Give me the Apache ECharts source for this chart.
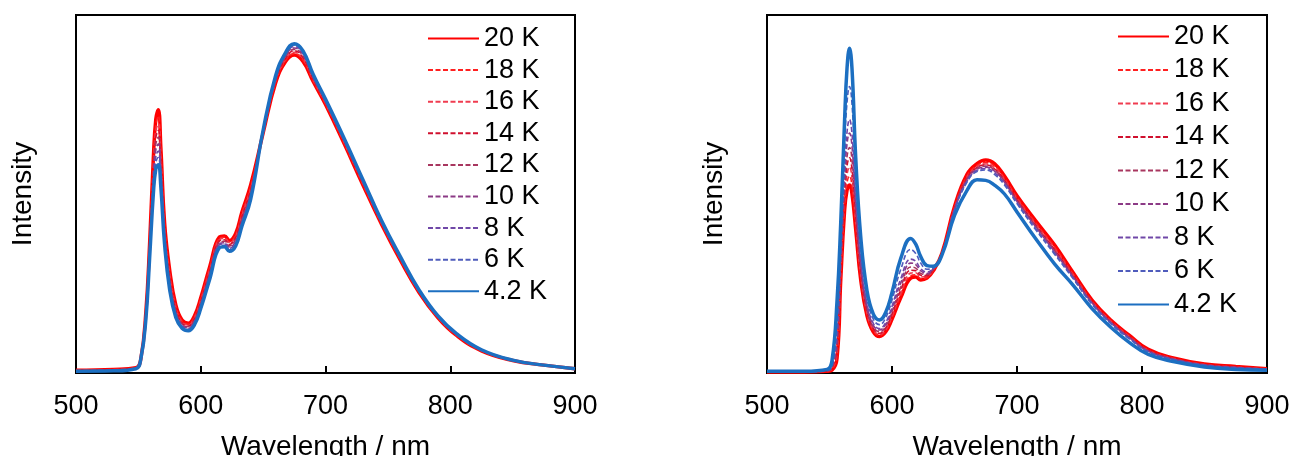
<!DOCTYPE html>
<html>
<head>
<meta charset="utf-8">
<script src="https://cdn.jsdelivr.net/npm/echarts@6/dist/echarts.min.js"></script>
<style>
html, body { margin: 0; padding: 0; background: #fff; }
#chart { width: 1291px; height: 456px; }
</style>
</head>
<body>
<div id="chart"></div>
<script>
// wavelength grid (nm) shared by all spectra
var wavelengths = [500, 530, 548, 552, 556, 559, 562, 564, 566, 568, 571, 575, 580, 585, 590, 595, 600, 607, 615, 619, 623, 628, 633, 640, 650, 660, 668, 675, 682, 690, 700, 715, 730, 745, 760, 775, 790, 805, 825, 850, 875, 900];
var tempNames = ['20 K', '18 K', '16 K', '14 K', '12 K', '10 K', '8 K', '6 K', '4.2 K'];
var xTicks = [500, 600, 700, 800, 900];

// left panel
var left_20K = [0.8, 1.0, 1.5, 4, 17, 36, 60, 71, 73.5, 63, 42, 29, 19, 14.8, 13.9, 16, 21, 29.5, 38, 38.3, 37, 39, 45, 52.5, 67, 81, 87, 88.8, 87, 81.5, 75, 64, 52.5, 41.5, 31.5, 22.5, 15.5, 10.5, 6.2, 3.5, 2.2, 1.2];
var left_18K = [0.8, 1.0, 1.5, 4, 16.8, 35.5, 58.8, 69.3, 71.7, 61.7, 41.3, 28.3, 18.6, 14.5, 13.6, 15.7, 20.6, 29.1, 37.6, 37.9, 36.6, 38.6, 44.5, 52, 67.1, 81.2, 87.3, 89.2, 87.4, 81.7, 75.2, 64.2, 52.7, 41.6, 31.6, 22.6, 15.6, 10.6, 6.2, 3.5, 2.2, 1.2];
var left_16K = [0.7, 0.9, 1.4, 4, 16.5, 35, 57.5, 67.5, 69.7, 60.3, 40.5, 27.6, 18.1, 14.2, 13.4, 15.4, 20.3, 28.6, 37.3, 37.6, 36.3, 38.2, 44, 51.5, 67.1, 81.5, 87.6, 89.6, 87.8, 82, 75.4, 64.4, 52.9, 41.8, 31.8, 22.7, 15.6, 10.6, 6.3, 3.5, 2.2, 1.2];
var left_14K = [0.7, 0.9, 1.4, 4, 16.3, 34.5, 56.3, 65.8, 67.8, 58.9, 39.8, 27, 17.7, 13.9, 13.1, 15.1, 19.9, 28.2, 36.9, 37.2, 35.9, 37.8, 43.5, 51, 67.2, 81.7, 87.9, 90, 88.1, 82.2, 75.6, 64.6, 53.1, 41.9, 31.9, 22.8, 15.7, 10.7, 6.3, 3.5, 2.2, 1.2];
var left_12K = [0.6, 0.8, 1.3, 4, 16, 34, 55, 64, 65.9, 57.5, 39, 26.3, 17.3, 13.7, 12.9, 14.8, 19.5, 27.8, 36.5, 36.8, 35.5, 37.4, 43, 50.5, 67.3, 82, 88.3, 90.4, 88.5, 82.5, 75.8, 64.8, 53.3, 42, 32, 22.9, 15.8, 10.8, 6.4, 3.6, 2.2, 1.2];
var left_10K = [0.6, 0.8, 1.3, 4, 15.8, 33.5, 53.8, 62.3, 64, 56.2, 38.3, 25.6, 16.8, 13.4, 12.6, 14.5, 19.1, 27.3, 36.1, 36.4, 35.1, 36.9, 42.5, 50, 67.4, 82.2, 88.6, 90.8, 88.9, 82.7, 75.9, 64.9, 53.4, 42.1, 32.1, 22.9, 15.8, 10.8, 6.4, 3.6, 2.2, 1.2];
var left_8K = [0.6, 0.7, 1.3, 4, 15.5, 33, 52.5, 60.5, 62, 54.8, 37.5, 24.9, 16.4, 13.1, 12.3, 14.1, 18.8, 26.9, 35.8, 36.1, 34.8, 36.5, 42, 49.5, 67.5, 82.5, 88.9, 91.2, 89.3, 83, 76.1, 65.1, 53.6, 42.3, 32.3, 23, 15.9, 10.9, 6.4, 3.6, 2.2, 1.2];
var left_6K = [0.5, 0.7, 1.2, 4, 15.3, 32.5, 51.3, 58.8, 60.2, 53.4, 36.8, 24.2, 16, 12.8, 12.1, 13.8, 18.4, 26.5, 35.4, 35.7, 34.4, 36, 41.5, 49, 67.6, 82.7, 89.2, 91.6, 89.6, 83.2, 76.3, 65.3, 53.8, 42.4, 32.4, 23.1, 15.9, 10.9, 6.5, 3.6, 2.2, 1.2];
var left_4K = [0.5, 0.6, 1.2, 4, 15, 32, 50, 57, 58.2, 52, 36, 23.5, 15.5, 12.5, 11.8, 13.5, 18, 26, 35, 35.3, 34, 35.5, 41, 48.5, 67.8, 83, 89.5, 92, 90, 83.5, 76.5, 65.5, 54, 42.5, 32.5, 23.2, 16, 11, 6.5, 3.6, 2.2, 1.2];

// right panel
var right_20K = [0.3, 0.3, 0.5, 0.8, 4, 26, 45, 51, 52.5, 50, 40, 26, 16, 11.5, 10.2, 11.5, 15, 21, 26.5, 26.8, 26, 26.5, 28.5, 33.5, 46.5, 55.5, 58.5, 59.5, 58.5, 55, 49.5, 42.5, 35.8, 28, 20.4, 14.8, 10.5, 6.6, 4.2, 2.5, 1.8, 1.2];
var right_18K = [0.3, 0.3, 0.5, 1.0, 5.0, 27, 46.6, 53.2, 55, 52.3, 41.3, 26.8, 16.5, 11.8, 10.5, 11.9, 15.5, 21.7, 27.2, 27.4, 26.4, 26.7, 28.7, 33.4, 46.2, 55, 58, 58.8, 57.8, 54.4, 49, 41.9, 35.2, 27.6, 20.1, 14.6, 10.3, 6.4, 4.1, 2.4, 1.7, 1.2];
var right_16K = [0.3, 0.3, 0.6, 1.2, 6.1, 28.1, 48.3, 55.4, 57.5, 54.6, 42.6, 27.6, 16.9, 12.2, 10.8, 12.2, 16, 22.4, 27.9, 28, 26.8, 27, 28.8, 33.4, 46, 54.6, 57.6, 58.4, 57.3, 54, 48.6, 41.5, 34.7, 27.3, 19.9, 14.4, 10.1, 6.3, 4, 2.3, 1.6, 1.1];
var right_14K = [0.3, 0.3, 0.6, 1.3, 7.2, 29.2, 50, 57.8, 60.1, 57, 44, 28.4, 17.4, 12.5, 11.1, 12.6, 16.5, 23.2, 28.7, 28.6, 27.3, 27.2, 28.9, 33.3, 45.9, 54.4, 57.4, 58.1, 57, 53.8, 48.4, 41.3, 34.5, 27.1, 19.8, 14.3, 10, 6.3, 4, 2.3, 1.6, 1.1];
var right_12K = [0.4, 0.4, 0.6, 1.5, 8.4, 30.4, 51.9, 60.4, 63, 59.6, 45.5, 29.3, 17.9, 12.9, 11.5, 13, 17.1, 24, 29.6, 29.3, 27.8, 27.5, 29, 33.3, 45.8, 54.2, 57.2, 57.8, 56.7, 53.5, 48.2, 41, 34.2, 26.9, 19.7, 14.2, 9.9, 6.2, 3.9, 2.3, 1.6, 1.1];
var right_10K = [0.4, 0.4, 0.7, 1.8, 10.1, 32.1, 54.5, 63.9, 67, 63.3, 47.6, 30.6, 18.7, 13.4, 12, 13.6, 17.9, 25.2, 30.7, 30.3, 28.5, 27.8, 29.1, 33.2, 45.6, 53.9, 56.9, 57.5, 56.4, 53.3, 47.9, 40.8, 33.9, 26.8, 19.6, 14.1, 9.8, 6.1, 3.9, 2.2, 1.5, 1.1];
var right_8K = [0.4, 0.4, 0.7, 2.1, 11.7, 33.7, 57, 67.3, 70.8, 66.8, 49.6, 31.8, 19.4, 13.9, 12.4, 14.1, 18.6, 26.3, 31.8, 31.2, 29.1, 28.2, 29.2, 33.2, 45.5, 53.6, 56.6, 57.1, 56, 52.9, 47.6, 40.4, 33.6, 26.5, 19.4, 14, 9.7, 6, 3.8, 2.2, 1.5, 1.0];
var right_6K = [0.4, 0.4, 0.9, 2.7, 15.5, 37.5, 63, 75.5, 80, 75.2, 54.4, 34.6, 21, 15.1, 13.5, 15.5, 20.4, 28.9, 34.5, 33.4, 30.7, 29, 29.4, 33.1, 45.3, 53.3, 56.3, 56.7, 55.5, 52.5, 47.3, 40, 33.2, 26.3, 19.2, 13.8, 9.5, 5.9, 3.7, 2.1, 1.4, 1.0];
var right_4K = [0.5, 0.5, 1.0, 3.5, 20, 42, 70, 85, 90.7, 85, 60, 38, 23, 16.5, 14.8, 17, 22.5, 32, 37.6, 36, 32.5, 30, 29.8, 33, 44, 51, 54, 53.8, 52.5, 50, 45, 37.5, 30.5, 24.5, 18, 12.8, 8.5, 5.2, 3.2, 1.7, 1.0, 0.8];

var leftSets = [left_20K, left_18K, left_16K, left_14K, left_12K, left_10K, left_8K, left_6K, left_4K];
var rightSets = [right_20K, right_18K, right_16K, right_14K, right_12K, right_10K, right_8K, right_6K, right_4K];

var colors = ['#ff0000', '#ff2020', '#f03c50', '#d0102e', '#a8365f', '#8c3a86', '#7048a8', '#4f5cbc', '#1c6fc1'];
var font = 'Liberation Sans, Arial, sans-serif';

(function()
{
	var mychart = echarts.init(document.getElementById('chart'), null, {renderer: 'canvas'});

	function pairs(vals) {
		return wavelengths.map(function(w, i) { return [w, vals[i]]; });
	}

	function makeSeries(sets, idx) {
		return sets.map(function(vals, i) {
			var solid = (i === 0 || i === sets.length - 1);
			return {
				name: tempNames[i],
				type: 'line',
				xAxisIndex: idx,
				yAxisIndex: idx,
				data: pairs(vals),
				smooth: 0.45,
				symbol: 'none',
				silent: true,
				z: 2 + i,
				lineStyle: {
					color: colors[i],
					width: solid ? 3.5 : 1.6,
					type: solid ? 'solid' : [5, 2.5]
				},
				itemStyle: { color: colors[i] }
			};
		});
	}

	function xAxis(idx) {
		return {
			type: 'value',
			gridIndex: idx,
			min: 500,
			max: 900,
			interval: 100,
			name: 'Wavelength / nm',
			nameLocation: 'middle',
			nameGap: 60,
			nameTextStyle: { fontFamily: font, fontSize: 28, color: '#000' },
			axisLine: { show: false },
			axisTick: { show: true, inside: true, length: 7, lineStyle: { color: '#000', width: 2 } },
			axisLabel: { fontFamily: font, fontSize: 27, color: '#000', margin: 20 },
			splitLine: { show: false }
		};
	}

	function yAxis(idx) {
		return {
			type: 'value',
			gridIndex: idx,
			min: 0,
			max: 100,
			name: 'Intensity',
			nameLocation: 'middle',
			nameGap: 39,
			nameTextStyle: { fontFamily: font, fontSize: 28, color: '#000' },
			axisLine: { show: false },
			axisTick: { show: false },
			axisLabel: { show: false },
			splitLine: { show: false }
		};
	}

	function legend(left, top, gap) {
		return {
			orient: 'vertical',
			left: left,
			top: top,
			data: tempNames,
			itemWidth: 51,
			itemHeight: 14,
			itemGap: gap,
			selectedMode: false,
			itemStyle: { opacity: 0 },
			textStyle: { fontFamily: font, fontSize: 27, color: '#000' }
		};
	}

	var option = {
		animation: false,
		backgroundColor: '#fff',
		grid: [
			{ left: 76, top: 15, width: 499, height: 358, outerBoundsMode: 'none', show: true, borderColor: '#000', borderWidth: 2, backgroundColor: 'transparent' },
			{ left: 767, top: 15, width: 500, height: 358, outerBoundsMode: 'none', show: true, borderColor: '#000', borderWidth: 2, backgroundColor: 'transparent' }
		],
		xAxis: [xAxis(0), xAxis(1)],
		yAxis: [yAxis(0), yAxis(1)],
		legend: [legend(422, 20, 4.6), legend(1112, 18, 6.5)],
		series: makeSeries(leftSets, 0).concat(makeSeries(rightSets, 1))
	};
	mychart.setOption(option);
})();
</script>
</body>
</html>
